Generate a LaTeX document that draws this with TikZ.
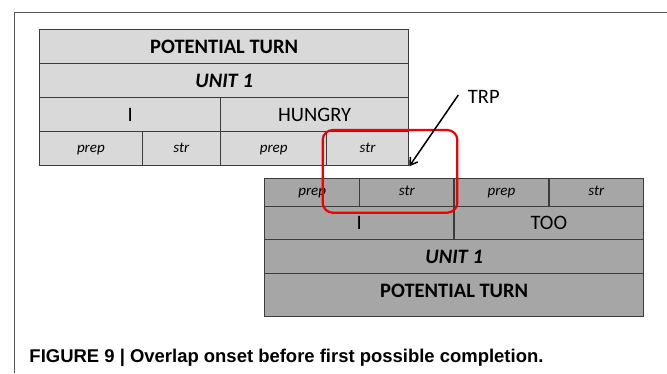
\documentclass[tikz,border=0pt]{standalone}
\usepackage{fontspec}
\setmainfont{Carlito}
\newfontfamily\capfont{Liberation Sans}
\usetikzlibrary{arrows.meta}
\definecolor{lightcell}{HTML}{D9D9D9}
\definecolor{darkcell}{HTML}{A6A6A6}
\definecolor{cellline}{HTML}{3C3C3C}
\definecolor{framegray}{HTML}{555555}
\definecolor{trpred}{HTML}{F00000}
\tikzset{
  cellbase/.style={draw=cellline, line width=1.3bp, inner sep=0pt, anchor=north west, rectangle},
  bigtxt/.style={font=\fontsize{20.5bp}{24bp}\selectfont, text height=13.3bp, text depth=0bp},
  smalltxt/.style={font=\fontsize{15bp}{18bp}\selectfont\itshape, text height=7bp, text depth=0bp},
  topcell/.style={cellbase, fill=lightcell},
  botcell/.style={cellbase, fill=darkcell},
  framestyle/.style={draw=framegray, line width=1bp},
}
\begin{document}
\begin{tikzpicture}[x=1bp, y=-1bp]
\useasboundingbox (0,0) rectangle (667,373);
% partial frame
\draw[framestyle] (14,373) -- (14,12) -- (667,12);
% top table
\node[topcell, bigtxt, minimum width=369bp, minimum height=34bp] (t1) at (39,29) {\bfseries POTENTIAL TURN};
\node[topcell, bigtxt, minimum width=369bp, minimum height=34bp] (t2) at (39,63) {\bfseries\itshape UNIT 1};
\node[topcell, bigtxt, minimum width=181bp, minimum height=34bp] (t3a) at (39,97) {I};
\node[topcell, bigtxt, minimum width=188bp, minimum height=34bp] (t3b) at (220,97) {HUNGRY};
\node[topcell, smalltxt, minimum width=102.5bp, minimum height=34bp] (t4a) at (39,131) {prep};
\node[topcell, smalltxt, minimum width=78.5bp, minimum height=34bp] (t4b) at (141.5,131) {str};
\node[topcell, smalltxt, minimum width=106bp, minimum height=34bp] (t4c) at (220,131) {prep};
\node[topcell, smalltxt, minimum width=82bp, minimum height=34bp] (t4d) at (326,131) {str};
% bottom table
\node[botcell, smalltxt, minimum width=95bp, minimum height=28bp] (b1a) at (264,177.7) {prep};
\node[botcell, smalltxt, minimum width=94.3bp, minimum height=28bp] (b1b) at (359,177.7) {str};
\node[botcell, smalltxt, minimum width=95bp, minimum height=28bp] (b1c) at (453.3,177.7) {prep};
\node[botcell, smalltxt, minimum width=94.7bp, minimum height=28bp] (b1d) at (548.3,177.7) {str};
\node[botcell, bigtxt, minimum width=189.3bp, minimum height=33.3bp] (b2a) at (264,205.7) {I};
\node[botcell, bigtxt, minimum width=189.7bp, minimum height=33.3bp] (b2b) at (453.3,205.7) {TOO};
\node[botcell, bigtxt, minimum width=379bp, minimum height=34bp] (b3) at (264,239) {\bfseries\itshape UNIT 1};
\node[botcell, bigtxt, text depth=8.9bp, minimum width=379bp, minimum height=43bp] (b4) at (264,273) {\bfseries POTENTIAL TURN};
% highlight
\node[draw=trpred, line width=2.2bp, rounded corners=10bp, inner sep=0pt,
      minimum width=134.6bp, minimum height=82.7bp] (hl) at (390,171.35) {};
% TRP label and arrow
\node[bigtxt, inner sep=0pt, anchor=base west] (trp) at (467.7,103.3) {TRP};
\coordinate (trpstart) at (458.3,95);
\draw[line width=1.5bp, -{Straight Barb[length=7bp,width=9bp]}] (trpstart) -- (t4d.south east);
% caption
\node[font=\capfont\bfseries\fontsize{18.46bp}{22bp}\selectfont, inner sep=0pt, anchor=base west] (cap) at (29.3,362.3) {FIGURE 9 | Overlap onset before first possible completion.};
\end{tikzpicture}
\end{document}
